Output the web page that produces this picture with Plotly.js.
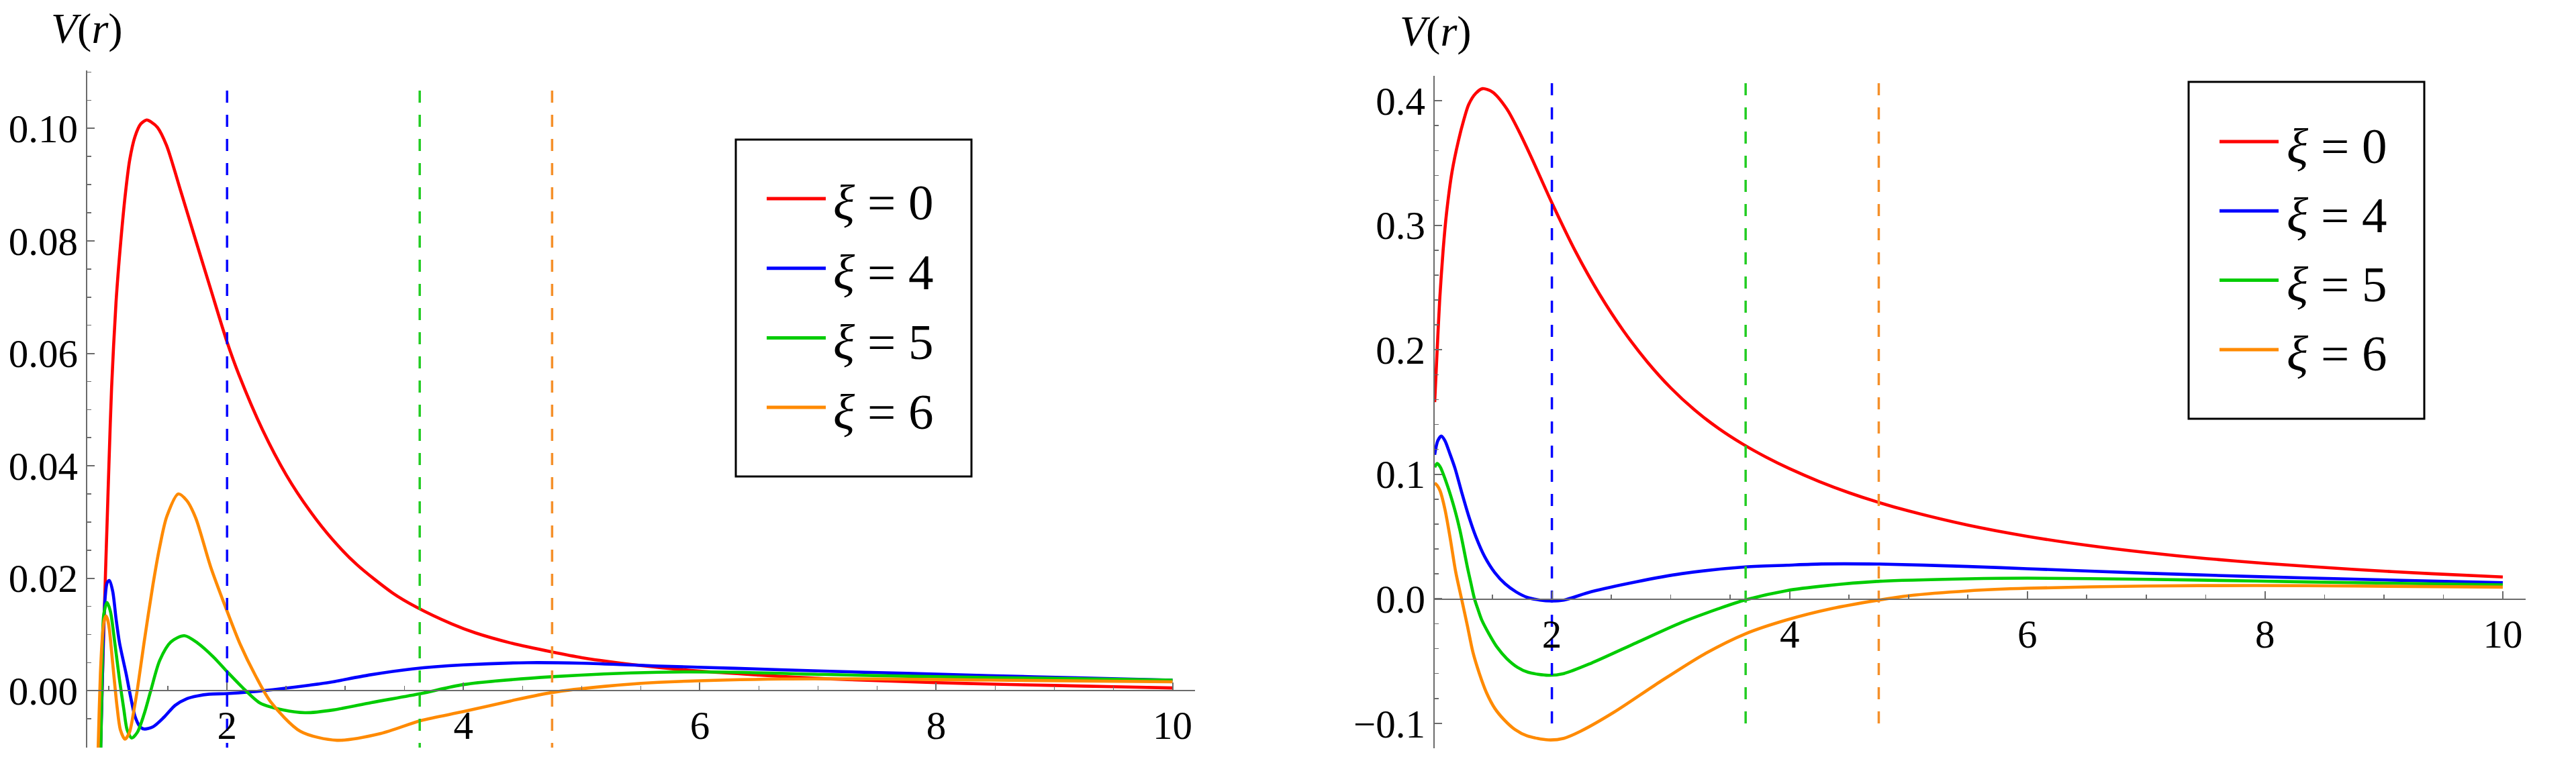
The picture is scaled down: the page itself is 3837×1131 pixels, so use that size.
<!DOCTYPE html>
<html>
<head>
<meta charset="utf-8">
<script src="https://cdn.plot.ly/plotly-3.0.1.min.js"></script>
<style>
  html, body { margin: 0; padding: 0; background: #fff; }
  #chart { width: 3837px; height: 1131px; }
</style>
</head>
<body>
<div id="chart"></div>
<script>
// xi values, one curve each, same order in both panels
const xiValues = [0, 4, 5, 6];
const curveColors = ["#ff0000", "#0000ff", "#00cc00", "#ff8a00"];

// r where V(r) crosses zero, marked by dashed lines (xi = 4, 5, 6)
const zeroR = [2.0, 3.63, 4.75];
const zeroColors = ["#0000ff", "#22cc22", "#f5902a"];

// left panel, V(r)
const rL0 = [0.922, 0.928, 0.95, 0.972, 0.985, 1.0, 1.023, 1.06, 1.10, 1.14, 1.176, 1.22, 1.27, 1.32, 1.36, 1.41, 1.487, 1.61, 1.733, 1.86, 2.0, 2.1, 2.3, 2.5, 2.7, 2.9, 3.1, 3.4, 3.6, 3.9, 4.1, 4.4, 4.75, 5.0, 5.5, 6.0, 6.5, 7.0, 7.5, 8.0, 8.5, 9.0, 9.5, 10.0];
const vL0 = [-0.0145, -0.0101, 0.0058, 0.0215, 0.030, 0.040, 0.054, 0.069, 0.0798, 0.0885, 0.0944, 0.0985, 0.1008, 0.1015, 0.1011, 0.1002, 0.097, 0.0887, 0.0802, 0.0715, 0.062, 0.0562, 0.0464, 0.0384, 0.0320, 0.0267, 0.0224, 0.0174, 0.0149, 0.0119, 0.0103, 0.0085, 0.0069, 0.0059, 0.0045, 0.0035, 0.0028, 0.0022, 0.0018, 0.00145, 0.00118, 0.00095, 0.00072, 0.0005];

const rL4 = [0.928, 0.945, 0.955, 0.968, 0.985, 1.004, 1.032, 1.06, 1.09, 1.146, 1.183, 1.22, 1.26, 1.297, 1.373, 1.466, 1.56, 1.66, 1.75, 1.85, 2.0, 2.2, 2.47, 2.7, 2.87, 3.2, 3.57, 4.0, 4.54, 5.0, 5.65, 6.3, 7.05, 7.75, 8.44, 9.2, 10.0];
const vL4 = [-0.012, 0.002, 0.011, 0.0165, 0.0192, 0.0196, 0.0177, 0.0129, 0.0085, 0.003, -0.001, -0.0045, -0.0063, -0.0068, -0.0064, -0.0047, -0.0026, -0.0014, -0.0009, -0.0006, -0.0005, -0.0002, 0.0004, 0.0010, 0.0015, 0.0028, 0.0039, 0.0046, 0.0050, 0.0049, 0.0044, 0.0040, 0.0035, 0.0031, 0.0027, 0.0023, 0.0019];

const rL5 = [0.93, 0.943, 0.956, 0.985, 1.013, 1.05, 1.089, 1.127, 1.155, 1.193, 1.24, 1.297, 1.354, 1.43, 1.525, 1.638, 1.75, 1.885, 2.0, 2.13, 2.28, 2.47, 2.66, 2.9, 3.22, 3.64, 4.0, 4.75, 5.65, 6.3, 7.05, 8.0, 9.0, 10.0];
const vL5 = [-0.012, 0.004, 0.0135, 0.0157, 0.0141, 0.0085, 0.0021, -0.0034, -0.007, -0.0084, -0.0074, -0.0042, 0.0, 0.0054, 0.0087, 0.0098, 0.0085, 0.006, 0.0034, 0.0006, -0.0022, -0.0034, -0.0039, -0.0034, -0.0021, -0.0005, 0.0011, 0.0025, 0.0033, 0.0033, 0.0029, 0.0025, 0.0022, 0.0019];

const rL6 = [0.904, 0.909, 0.928, 0.947, 0.962, 0.976, 0.99, 1.004, 1.032, 1.07, 1.098, 1.136, 1.174, 1.212, 1.24, 1.297, 1.373, 1.43, 1.49, 1.587, 1.66, 1.735, 1.86, 1.99, 2.11, 2.24, 2.37, 2.62, 2.93, 3.3, 3.64, 4.0, 4.4, 4.75, 5.2, 5.65, 6.7, 7.5, 8.5, 10.0];
const vL6 = [-0.0137, -0.0102, 0.003, 0.0101, 0.0127, 0.0133, 0.0126, 0.0109, 0.0049, -0.003, -0.007, -0.0086, -0.0074, -0.0034, 0.0001, 0.0085, 0.0189, 0.0256, 0.031, 0.035, 0.0338, 0.0307, 0.0221, 0.0147, 0.0083, 0.0027, -0.002, -0.0072, -0.0088, -0.0076, -0.0053, -0.0037, -0.0018, -0.0003, 0.0008, 0.0015, 0.0021, 0.0021, 0.0019, 0.0016];

// right panel
const rR0 = [1.014, 1.03, 1.056, 1.085, 1.114, 1.16, 1.214, 1.26, 1.30, 1.36, 1.416, 1.5, 1.62, 1.72, 1.82, 2.0, 2.2, 2.4, 2.6, 2.8, 3.0, 3.2, 3.4, 3.6, 3.8, 4.0, 4.25, 4.5, 4.75, 5.0, 5.5, 6.0, 6.5, 7.0, 7.5, 8.0, 8.75, 9.4, 10.0];
const vR0 = [0.158, 0.19, 0.24, 0.28, 0.31, 0.343, 0.368, 0.385, 0.397, 0.406, 0.4097, 0.407, 0.3936, 0.376, 0.356, 0.318, 0.2787, 0.2447, 0.2155, 0.1906, 0.1694, 0.1517, 0.137, 0.1246, 0.1139, 0.1045, 0.0942, 0.0852, 0.0774, 0.0706, 0.0592, 0.0502, 0.043, 0.0372, 0.0324, 0.0285, 0.0236, 0.0202, 0.0176];

const rR4 = [1.014, 1.04, 1.07, 1.10, 1.14, 1.185, 1.24, 1.30, 1.36, 1.435, 1.52, 1.607, 1.70, 1.798, 1.9, 1.99, 2.1, 2.33, 2.71, 3.09, 3.63, 3.98, 4.27, 4.76, 5.5, 6.0, 7.0, 7.91, 8.75, 10.0];
const vR4 = [0.1157, 0.127, 0.1307, 0.127, 0.117, 0.1048, 0.086, 0.0665, 0.050, 0.0338, 0.021, 0.012, 0.0055, 0.001, -0.001, -0.0017, -0.001, 0.0057, 0.0137, 0.0202, 0.0256, 0.027, 0.028, 0.0279, 0.026, 0.0242, 0.0206, 0.0179, 0.0158, 0.013];

const rR5 = [1.014, 1.035, 1.06, 1.11, 1.17, 1.225, 1.29, 1.32, 1.349, 1.38, 1.41, 1.47, 1.54, 1.62, 1.71, 1.80, 1.97, 2.1, 2.33, 2.71, 3.09, 3.4, 3.63, 3.98, 4.3, 4.76, 5.5, 6.0, 7.0, 7.91, 8.75, 10.0];
const vR5 = [0.1057, 0.1088, 0.106, 0.094, 0.076, 0.0557, 0.025, 0.012, 0.0, -0.009, -0.017, -0.028, -0.039, -0.048, -0.055, -0.059, -0.0614, -0.060, -0.0517, -0.0353, -0.019, -0.008, -0.0008, 0.0067, 0.0105, 0.0141, 0.0161, 0.0166, 0.0157, 0.0143, 0.013, 0.0112];

const rR6 = [1.014, 1.035, 1.06, 1.10, 1.145, 1.19, 1.24, 1.29, 1.335, 1.39, 1.45, 1.52, 1.60, 1.69, 1.79, 1.97, 2.1, 2.24, 2.52, 2.90, 3.28, 3.63, 3.98, 4.35, 4.75, 5.0, 5.5, 6.0, 7.0, 7.91, 8.75, 10.0];
const vR6 = [0.093, 0.091, 0.0866, 0.072, 0.0484, 0.022, 0.0, -0.022, -0.0426, -0.060, -0.0754, -0.088, -0.0973, -0.105, -0.110, -0.1133, -0.112, -0.1064, -0.0912, -0.0672, -0.0445, -0.028, -0.0168, -0.0079, -0.0010, 0.0025, 0.0064, 0.0085, 0.0103, 0.0107, 0.0103, 0.0094];

const leftR = [rL0, rL4, rL5, rL6];
const leftV = [vL0, vL4, vL5, vL6];
const rightR = [rR0, rR4, rR5, rR6];
const rightV = [vR0, vR4, vR5, vR6];

const W = 3837, H = 1131;
const px = (x) => x / W;
const py = (y) => 1 - y / H;

const serif = "Liberation Serif";
const axisGray = "#6b6b6b";

function curveTraces(rs, vs, xa, ya) {
  return rs.map((r, i) => ({
    type: "scatter",
    mode: "lines",
    x: r,
    y: vs[i],
    xaxis: xa,
    yaxis: ya,
    line: { color: curveColors[i], width: 4.6, shape: "spline", smoothing: 0.8 },
    name: "ξ = " + xiValues[i],
    showlegend: false,
    hoverinfo: "skip",
  }));
}

function zeroTraces(yLow, yHigh, xa, ya) {
  return zeroR.map((r, i) => ({
    type: "scatter",
    mode: "lines",
    x: [r, r],
    y: [yLow, yHigh],
    xaxis: xa,
    yaxis: ya,
    line: { color: zeroColors[i], width: 3.5, dash: "18px,18px" },
    showlegend: false,
    hoverinfo: "skip",
  }));
}

const data = [
  ...curveTraces(leftR, leftV, "x", "y"),
  ...zeroTraces(-0.02, 0.108, "x", "y"),
  ...curveTraces(rightR, rightV, "x2", "y2"),
  ...zeroTraces(-0.1, 0.42, "x2", "y2"),
];

function xAxis(domain, range, zeroPos) {
  return {
    domain: domain,
    range: range,
    anchor: "free",
    position: zeroPos,
    showline: true,
    linecolor: axisGray,
    linewidth: 2.2,
    showgrid: false,
    zeroline: false,
    ticks: "inside",
    ticklen: 11,
    tickwidth: 2,
    tickcolor: axisGray,
    tick0: 0,
    dtick: 2,
    tickfont: { family: serif, size: 59, color: "#000" },
    minor: { ticks: "inside", dtick: 0.5, tick0: 0, ticklen: 6, tickwidth: 1.6, tickcolor: axisGray, showgrid: false },
    fixedrange: true,
  };
}

function yAxis(domain, range, anchor, dtick, minorDtick, fmt) {
  return {
    domain: domain,
    range: range,
    anchor: anchor,
    showline: true,
    linecolor: axisGray,
    linewidth: 2.2,
    showgrid: false,
    zeroline: false,
    ticks: "inside",
    ticklen: 11,
    tickwidth: 2,
    tickcolor: axisGray,
    tick0: 0,
    dtick: dtick,
    tickformat: fmt,
    tickfont: { family: serif, size: 59, color: "#000" },
    minor: { ticks: "inside", dtick: minorDtick, tick0: 0, ticklen: 6, tickwidth: 1.6, tickcolor: axisGray, showgrid: false },
    fixedrange: true,
  };
}

// legend boxes (pixel boxes of the picture), drawn as shapes + text
const legends = [
  { x0: 1096, x1: 1447, y0: 208, y1: 710, lineX0: 1142, lineX1: 1230, textX: 1239, firstY: 296, step: 103.7 },
  { x0: 3260, x1: 3611, y0: 122, y1: 624, lineX0: 3306, lineX1: 3394, textX: 3404, firstY: 211, step: 103.3 },
];

const shapes = [];
const annotations = [];
legends.forEach((lg) => {
  shapes.push({
    type: "rect", xref: "paper", yref: "paper", layer: "above",
    x0: px(lg.x0), x1: px(lg.x1), y0: py(lg.y1), y1: py(lg.y0),
    line: { color: "#000", width: 3 }, fillcolor: "#fff",
  });
  xiValues.forEach((xi, i) => {
    const yy = lg.firstY + i * lg.step;
    shapes.push({
      type: "line", xref: "paper", yref: "paper", layer: "above",
      x0: px(lg.lineX0), x1: px(lg.lineX1), y0: py(yy), y1: py(yy),
      line: { color: curveColors[i], width: 5 },
    });
    annotations.push({
      xref: "paper", yref: "paper", x: px(lg.textX), y: py(yy + 6),
      xanchor: "left", yanchor: "middle", showarrow: false,
      text: "<i>ξ</i> = " + xi,
      font: { family: serif, size: 75, color: "#000" },
    });
  });
});

// axis labels
annotations.push(
  { xref: "paper", yref: "paper", x: px(129), y: py(42), xanchor: "center", yanchor: "middle", showarrow: false,
    text: "<i>V</i>(<i>r</i>)", font: { family: serif, size: 64, color: "#000" } },
  { xref: "paper", yref: "paper", x: px(2138), y: py(47), xanchor: "center", yanchor: "middle", showarrow: false,
    text: "<i>V</i>(<i>r</i>)", font: { family: serif, size: 64, color: "#000" } },
  { xref: "x", yref: "y", x: 10.52, y: 0, xanchor: "center", yanchor: "middle", showarrow: false,
    text: "<i>r</i>", font: { family: serif, size: 64, color: "#000" } },
  { xref: "x2", yref: "y2", x: 10.5, y: 0, xanchor: "center", yanchor: "middle", showarrow: false,
    text: "<i>r</i>", font: { family: serif, size: 64, color: "#000" } }
);

const layout = {
  width: W,
  height: H,
  margin: { l: 0, r: 0, t: 0, b: 0 },
  paper_bgcolor: "#fff",
  plot_bgcolor: "#fff",
  showlegend: false,
  xaxis: xAxis([px(130), px(1780)], [0.817, 10.19], py(1029)),
  yaxis: yAxis([py(1114), py(105)], [-0.0101, 0.1103], "x", 0.02, 0.005, ".2f"),
  xaxis2: xAxis([px(2137), px(3761.6)], [1.014, 10.19], py(892.5)),
  yaxis2: yAxis([py(1115), py(113)], [-0.12, 0.42], "x2", 0.1, 0.02, ".1f"),
  shapes: shapes,
  annotations: annotations,
};

Plotly.newPlot("chart", data, layout, { displayModeBar: false, staticPlot: true });
</script>
</body>
</html>
